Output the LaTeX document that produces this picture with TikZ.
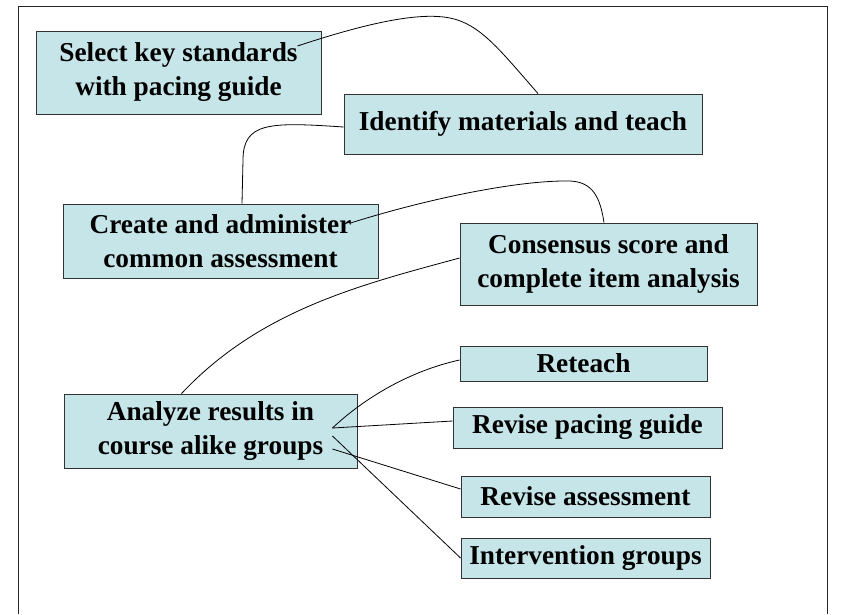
\documentclass[tikz,border=0pt]{standalone}
\usepackage{fontspec}
\setmainfont{Liberation Serif}
\usetikzlibrary{shadows,calc}
\definecolor{boxfill}{RGB}{198,229,232}
\definecolor{boxline}{RGB}{50,50,50}
\begin{document}
\begin{tikzpicture}[x=1pt,y=-1pt,
  box/.style={draw=boxline, line width=0.9pt, fill=boxfill, inner sep=0pt, align=center,
    font=\fontsize{27.3}{34}\selectfont\bfseries,
    drop shadow={shadow xshift=1.4pt,shadow yshift=-1.4pt,fill=black!50,opacity=1}},
  conn/.style={draw=black, line width=0.8pt},
  frame/.style={draw=black!85, line width=1pt}]
\useasboundingbox (0,0) rectangle (842,614);
\fill[white] (0,0) rectangle (842,614);
\draw[frame] (18,614) -- (18,6) -- (827,6) -- (827,614);

\node[box, minimum width=285pt, minimum height=83pt] (A) at (178.5,72.5) {Select key standards\\with pacing guide};
\node[box, minimum width=358pt, minimum height=60pt] (B) at (523,124) {Identify materials and teach};
\node[box, minimum width=315pt, minimum height=74pt] (C) at (220.5,241) {Create and administer\\common assessment};
\node[box, minimum width=297pt, minimum height=82pt] (D) at (608.5,264) {Consensus score and\\complete item analysis};
\node[box, minimum width=293pt, minimum height=74pt] (E) at (210.5,431) {Analyze results in\\course alike groups};
\node[box, minimum width=247pt, minimum height=35pt] (F) at (583.5,363.5) {Reteach};
\node[box, minimum width=269pt, minimum height=41pt] (G) at (587.5,427.5) {Revise pacing guide};
\node[box, minimum width=249pt, minimum height=41pt] (H) at (585.5,496.5) {Revise assessment};
\node[box, minimum width=249pt, minimum height=40pt] (I) at (585.5,558) {Intervention groups};

\coordinate (a1) at ($(A.east)+(-24,-26.5)$);
\coordinate (b1) at ($(B.north)+(15,0)$);
\coordinate (b2) at ($(B.west)+(0,3)$);
\coordinate (c1) at ($(C.north)+(21.5,0)$);
\coordinate (c2) at ($(C.east)+(-28,-18)$);
\coordinate (d1) at ($(D.north)+(-4.5,0)$);
\coordinate (d2) at ($(D.west)+(0,-6)$);
\coordinate (e1) at ($(E.north)+(-29,0)$);
\coordinate (e2) at ($(E.east)+(-25,-3)$);
\coordinate (e3) at ($(E.east)+(-25,5)$);
\coordinate (e4) at ($(E.east)+(-25,18)$);
\coordinate (f1) at ($(F.west)+(0,-3.5)$);
\coordinate (g1) at ($(G.west)+(0,-6.5)$);
\coordinate (h1) at ($(H.west)+(0,-7.5)$);
\coordinate (i1) at (I.west);

\draw[conn] (a1) .. controls (370,22) and (420,12) .. (450,18) .. controls (480,24) and (500,50) .. (b1);
\draw[conn] (b2) .. controls (270,122) and (243,122) .. (243,160) -- (c1);
\draw[conn] (c2) .. controls (430,198) and (520,180) .. (570,181) .. controls (592,182) and (600,196) .. (d1);
\draw[conn] (d2) .. controls (360,285) and (260,310) .. (e1);
\draw[conn] (e2) .. controls (360,402) and (405,372) .. (f1);
\draw[conn] (e2) -- (g1);
\draw[conn] (e4) -- (h1);
\draw[conn] (e3) -- (i1);
\end{tikzpicture}
\end{document}
